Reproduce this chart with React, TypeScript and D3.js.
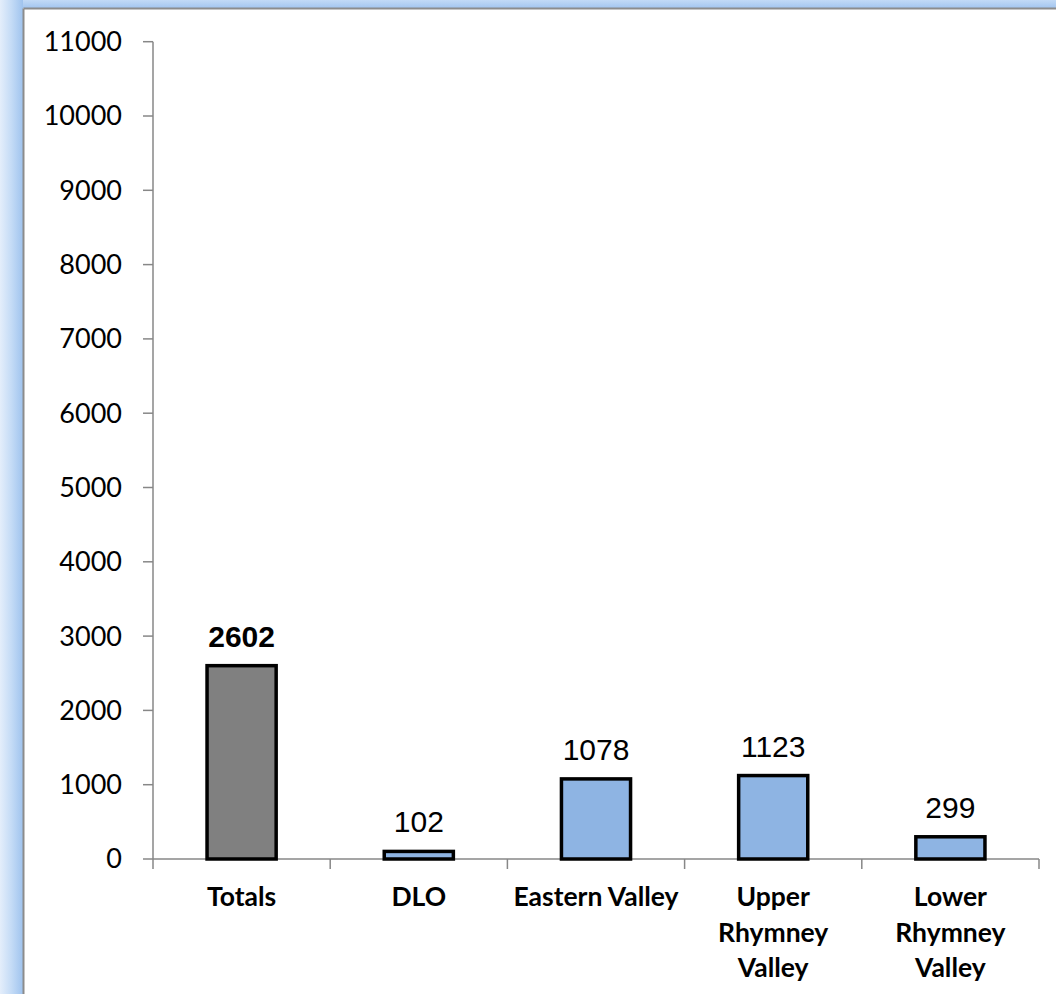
import React from "react";
import * as d3 from "d3";

const categories: string[][] = [
  ["Totals"],
  ["DLO"],
  ["Eastern Valley"],
  ["Upper", "Rhymney", "Valley"],
  ["Lower", "Rhymney", "Valley"],
];
const values: number[] = [2602, 102, 1078, 1123, 299];
const barColors: string[] = ["#808080", "#8EB4E3", "#8EB4E3", "#8EB4E3", "#8EB4E3"];
const boldLabel: boolean[] = [true, false, false, false, false];
const yTicks: number[] = [0, 1000, 2000, 3000, 4000, 5000, 6000, 7000, 8000, 9000, 10000, 11000];

const W = 1056;
const H = 994;
const x0 = 153;
const x1 = 1039;
const yBase = 859;
const yTop = 41.7;

export default function App() {
  const x = d3
    .scaleBand<number>()
    .domain(values.map((_, i) => i))
    .range([x0, x1])
    .paddingInner(0)
    .paddingOuter(0);
  const y = d3.scaleLinear().domain([0, 11000]).range([yBase, yTop]);
  const bw = x.bandwidth() * 0.39;
  const axisColor = "#878787";

  return (
    <svg
      width={W}
      height={H}
      style={{ position: "absolute", left: 0, top: 0, background: "#fff" }}
    >
      <defs>
        <linearGradient id="gl" x1="0" x2="1" y1="0" y2="0">
          <stop offset="0" stopColor="#e4eefb" />
          <stop offset="0.5" stopColor="#c4dbf6" />
          <stop offset="1" stopColor="#9fc3ee" />
        </linearGradient>
        <linearGradient id="gt" x1="0" x2="0" y1="0" y2="1">
          <stop offset="0" stopColor="#c2daf6" />
          <stop offset="1" stopColor="#a3c5ef" />
        </linearGradient>
      </defs>
      <rect x={0} y={0} width={W} height={8} fill="url(#gt)" />
      <rect x={0} y={0} width={23} height={H} fill="url(#gl)" />
      <line x1={23.5} x2={W} y1={8.5} y2={8.5} stroke="#8c8c8c" strokeWidth={2} />
      <line x1={23.5} x2={23.5} y1={8.5} y2={H} stroke="#8c8c8c" strokeWidth={2} />

      {/* Y axis */}
      <line x1={x0} x2={x0} y1={y(11000)} y2={yBase} stroke={axisColor} strokeWidth={1.5} />
      {yTicks.map((t) => (
        <g key={t}>
          <line x1={x0 - 10} x2={x0} y1={y(t)} y2={y(t)} stroke={axisColor} strokeWidth={1.5} />
          <text
            x={122}
            y={y(t)}
            dy="0.35em"
            textAnchor="end"
            fontFamily="Lato, 'Noto Sans', sans-serif"
            fontSize={27}
            fill="#000"
          >
            {t}
          </text>
        </g>
      ))}

      {/* X axis */}
      <line x1={x0} x2={x1} y1={yBase} y2={yBase} stroke={axisColor} strokeWidth={1.5} />
      {values.map((_, i) => (
        <line
          key={"t" + i}
          x1={x(i)!}
          x2={x(i)!}
          y1={yBase}
          y2={yBase + 10}
          stroke={axisColor}
          strokeWidth={1.5}
        />
      ))}
      <line x1={x1} x2={x1} y1={yBase} y2={yBase + 10} stroke={axisColor} strokeWidth={1.5} />

      {/* Bars */}
      {values.map((v, i) => {
        const cx = x(i)! + x.bandwidth() / 2;
        return (
          <g key={"b" + i}>
            <rect
              x={cx - bw / 2}
              y={y(v)}
              width={bw}
              height={yBase - y(v)}
              fill={barColors[i]}
              stroke="#000"
              strokeWidth={3.5}
            />
            <text
              x={cx}
              y={y(v) - 19}
              textAnchor="middle"
              fontFamily="'Liberation Sans', Arial, sans-serif"
              fontSize={30}
              fontWeight={boldLabel[i] ? "bold" : "normal"}
              fill="#000"
            >
              {v}
            </text>
          </g>
        );
      })}

      {/* Category labels */}
      {categories.map((lines, i) => {
        const cx = x(i)! + x.bandwidth() / 2;
        return (
          <text
            key={"c" + i}
            textAnchor="middle"
            fontFamily="Lato, 'Noto Sans', sans-serif"
            fontWeight="bold"
            fontSize={26.5}
            fill="#000"
          >
            {lines.map((l, j) => (
              <tspan key={j} x={cx} y={906 + j * 35.5}>
                {l}
              </tspan>
            ))}
          </text>
        );
      })}
    </svg>
  );
}
